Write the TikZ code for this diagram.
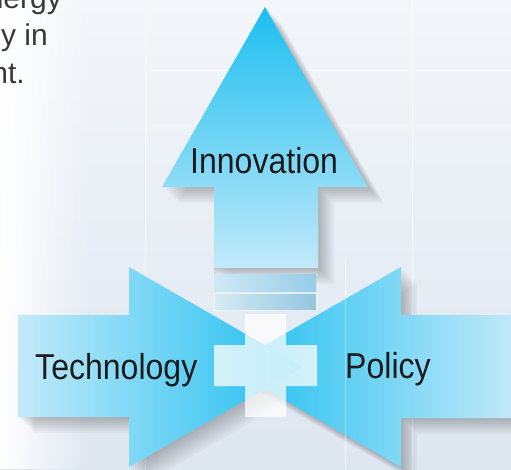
\documentclass[tikz,border=0pt]{standalone}
\usepackage{fontspec}
\setmainfont{Liberation Sans}
\newfontfamily\narrowfont[FakeStretch=0.89]{Liberation Sans}
\usetikzlibrary{fadings}

\definecolor{paperTop}{RGB}{243,246,250}
\definecolor{paperBottom}{RGB}{222,230,240}
\definecolor{deep}{RGB}{28,190,240}
\definecolor{pale}{RGB}{194,233,249}
\definecolor{stripe}{RGB}{150,205,232}
\definecolor{ink}{RGB}{28,28,28}
\definecolor{greytext}{RGB}{58,58,58}

\newcommand\innovpath{(265,7) -- (368,187) -- (318,187) -- (318,268) -- (214,268) -- (214,187) -- (162,187) -- cycle}
\newcommand\techpath{(18,315) -- (129,315) -- (129,267) -- (303,367) -- (129,467) -- (129,417) -- (18,417) -- cycle}
\newcommand\policypath{(515,315) -- (401,315) -- (401,267) -- (227,367) -- (401,467) -- (401,418) -- (515,418) -- cycle}

\tikzset{
	wordlabel/.style={anchor=base west, inner sep=0pt, text=ink, font=\narrowfont\fontsize{36}{40}\selectfont},
	sidetext/.style={anchor=base east, inner sep=0pt, text=greytext, font=\fontsize{30}{36}\selectfont},
	softshadow/.style={black, opacity=.03}
}

\begin{document}
\begin{tikzpicture}[x=1pt, y=-1pt]
	\useasboundingbox (0,0) rectangle (511,469);
	\shade[top color=paperTop, bottom color=paperBottom] (0,0) rectangle (511,469);
	\fill[white, path fading=east] (0,0) rectangle (90,469);
	\draw[white, opacity=.8] (145,0) -- (145,469);
	\draw[white, opacity=.8] (412,0) -- (412,469);
	\draw[white, opacity=.6] (345,260) -- (345,469);
	\draw[white, opacity=.4] (150,70) -- (511,70);
	\draw[white, opacity=.3] (150,125) -- (511,125);

	\node[sidetext] (lineA) at (62,8) {nergy};
	\node[sidetext] (lineB) at (48,45) {y in};
	\node[sidetext] (lineC) at (25,83) {nt.};

	\foreach \d in {2,4,...,16} {
		\fill[softshadow, shift={(\d,\d)}] \innovpath;
		\fill[softshadow, shift={(\d,\d)}] \techpath;
		\fill[softshadow, shift={(\d,\d)}] \policypath;
	}

	\shade[top color=black!30, bottom color=paperBottom, opacity=.6] (214,268) rectangle (318,275);
	\shade[top color=deep, bottom color=pale] \innovpath;
	\shade[left color=white!55!stripe, right color=stripe] (214,274) rectangle (316,291);
	\shade[left color=white!60!stripe, right color=stripe!90!gray] (214,293) rectangle (316,310);
	\draw[white, opacity=.7] (214,293) rectangle (316,310);

	\shade[left color=deep, right color=pale] \policypath;
	\draw[white, opacity=.35] (345,290) -- (345,450);
	\shade[left color=pale, right color=deep] \techpath;

	\fill[white, opacity=.75] (245,314) -- (286,314) -- (286,345) -- (317,345) -- (317,386) -- (286,386)
		-- (286,417) -- (245,417) -- (245,386) -- (214,386) -- (214,345) -- (245,345) -- cycle;

	\node[wordlabel] (innov) at (190,173) {Innovation};
	\node[wordlabel] (tech) at (35,379) {Technology};
	\node[wordlabel] (policy) at (345,378) {Policy};
\end{tikzpicture}
\end{document}
